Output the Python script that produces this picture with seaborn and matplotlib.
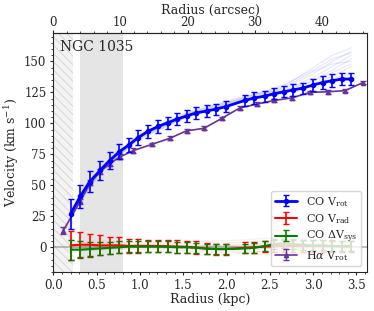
import numpy as np
import pandas as pd
import seaborn as sb
import matplotlib
import matplotlib.pyplot as plt
from matplotlib.ticker import AutoMinorLocator

# Данные кривой вращения

co_radius = [0.20, 0.31, 0.42, 0.54, 0.65, 0.76, 0.87, 0.98, 1.09, 1.21, 1.32, 1.43, 1.54, 1.65, 1.77,
             1.88, 1.99, 2.21, 2.32, 2.44, 2.55, 2.66, 2.77, 2.88, 3.00, 3.11, 3.22, 3.33, 3.44]
co_vrot = [27, 41, 53, 62, 70, 77, 82.5, 88.5, 93.5, 97.5, 100.5, 103.5, 106, 108.5, 110,
           111.5, 113.5, 118.5, 120.5, 122, 124, 125.5, 127, 128.5, 131, 133, 134.5, 135.8, 135.8]
co_vrot_err = [12, 9.5, 8.5, 7.5, 6.5, 6, 5.5, 6, 5.5, 5, 5, 5, 5, 5, 5,
               4.5, 4.5, 4.5, 4.5, 4.5, 4.5, 4.5, 4.5, 4.5, 5, 5, 5, 5, 5]
co_vrad = [1.5, 2, 2, 1.5, 1.5, 1.5, 1, 1, 1, 1, 0.8, 0.5, 0.3, -0.3, -1,
           -1.5, -1.5, -0.5, 0, 0.5, 1, 1, 1, 1, 1, 1, 1, 0.5, 0.5]
co_vrad_err = [12, 10, 9, 8, 7, 6.5, 6, 5.5, 5, 5, 5, 5, 5, 5, 4.5,
               4.5, 4.5, 4.5, 4.5, 4.5, 4.5, 4.5, 4.5, 4.5, 4.5, 4.5, 4.5, 4.5, 4.5]
co_dvsys = [-2, -2, -1.5, -1, -0.5, 0, 0.5, 0.5, 0.5, 0.5, 0.3, 0, 0, -0.5, -1.3,
            -1.5, -1.5, -1, -0.5, 1, 2.5, 3, 2.5, 2, 1.5, 1.5, 1, 1, 1]
co_dvsys_err = [8, 7, 6, 5.5, 5, 5, 4.5, 4.5, 4.5, 4.5, 4.5, 4.5, 4.5, 4, 4,
                4, 4, 4, 4, 4, 4, 4, 4, 4, 4, 4, 4, 4, 4]

ha_radius = [0.115, 0.31, 0.425, 0.54, 0.654, 0.77, 0.923, 1.135, 1.346, 1.539, 1.739, 1.943,
             2.154, 2.347, 2.547, 2.75, 2.96, 3.17, 3.37, 3.577]
ha_vrot = [13.5, 37, 52, 61, 67.5, 73, 78, 83, 88, 94, 96, 104,
           112.5, 115.5, 118.5, 120.5, 125, 125.5, 126.5, 133]
ha_vrot_err = [2.5, 2, 2, 2, 2, 2, 2, 1.5, 1.5, 1.5, 1.5, 1.5,
               1.5, 1.5, 1.5, 1.5, 1.5, 1.5, 1.5, 1.5]

# Выборки (тонкие линии)
sample_radius = [0.2, 0.54, 0.98, 1.54, 2.21, 2.66, 3.0, 3.22, 3.44]
vrot_samples = [
    [26, 61, 88, 107, 120, 128, 140, 150, 158],
    [28, 63, 90, 108, 121, 130, 145, 155, 161],
    [27, 62, 89, 106, 119, 126, 135, 143, 152],
    [25, 60, 87, 105, 118, 124, 132, 138, 146],
    [29, 64, 91, 109, 122, 127, 137, 146, 155],
    [27, 62, 88, 106, 119, 125, 131, 136, 140],
    [26, 63, 89, 107, 120, 129, 142, 148, 150],
    [28, 61, 87, 105, 119, 126, 134, 141, 148],
    [27, 63, 90, 108, 121, 131, 143, 152, 157],
]
vrad_samples = [
    [3, 4, 3, 3, 4, 6, 8, 9, 10],
    [0, 1, 0, -1, -3, -5, -6, -7, -8],
    [2, 2, 2, 1, 1, 2, 3, 4, 5],
    [-1, 0, -1, -2, -4, -3, -3, -4, -4],
    [4, 3, 2, 2, 2, 4, 5, 6, 7],
    [1, 1, 0, 0, -1, -1, -2, -2, -1],
    [-2, -1, -2, -3, -5, -7, -8, -9, -9],
    [5, 5, 4, 4, 6, 8, 10, 11, 12],
]
dvsys_samples = [
    [-1, 0, 1, 0, 0, 2, 3, 3, 4],
    [-3, -2, 0, -1, -2, -1, -2, -3, -3],
    [-2, -1, 2, 1, 1, 1, 2, 1, 2],
    [-4, -2, 0, -1, -1, 0, -1, -1, 0],
    [-1, 1, 2, 1, 1, 4, 5, 4, 5],
]

kpc_ticks = [0.0, 0.5, 1.0, 1.5, 2.0, 2.5, 3.0, 3.5]
arcsec_ticks = [0, 10, 20, 30, 40]
KPC_PER_ARCSEC = 0.0776


def samples_df(samples):
    rows = []
    for k, s in enumerate(samples):
        for r, v in zip(sample_radius, s):
            rows.append({"radius": r, "velocity": v, "sample": k})
    return pd.DataFrame(rows)


sb.set_style("ticks")
plt.rcParams["font.family"] = ["DejaVu Serif"]
plt.rcParams["mathtext.fontset"] = "dejavuserif"
plt.rcParams["hatch.linewidth"] = 0.6

fig = plt.figure(figsize=(3.74, 3.11), dpi=100)
ax = fig.add_axes([0.1426, 0.1254, 0.8384, 0.7686])

# Затенённые области
ax.axvspan(0, 0.23, facecolor="#f3f3f3", edgecolor="#d3d3d3", hatch="\\\\\\\\", lw=0, zorder=0)
ax.axvspan(0.31, 0.80, color="gray", alpha=0.2, lw=0, zorder=0)
ax.axhline(0, color="gray", alpha=0.5, lw=1.5, zorder=1)

sb.lineplot(data=samples_df(vrot_samples), x="radius", y="velocity", units="sample", estimator=None,
            color="blue", alpha=0.1, lw=0.8, ax=ax, legend=False)
sb.lineplot(data=samples_df(vrad_samples), x="radius", y="velocity", units="sample", estimator=None,
            color="red", alpha=0.08, lw=0.8, ax=ax, legend=False)
sb.lineplot(data=samples_df(dvsys_samples), x="radius", y="velocity", units="sample", estimator=None,
            color="green", alpha=0.08, lw=0.8, ax=ax, legend=False)

ax.errorbar(co_radius, co_vrot, yerr=co_vrot_err, color="blue", marker="o", ms=3, lw=2,
            elinewidth=1.2, capsize=2.5, label=r"CO V$_{\rm rot}$", zorder=5)
ax.errorbar(co_radius, co_vrad, yerr=co_vrad_err, color="red", lw=1.5,
            elinewidth=1.2, capsize=2.5, label=r"CO V$_{\rm rad}$", zorder=4)
ax.errorbar(co_radius, co_dvsys, yerr=co_dvsys_err, color="green", lw=1.5,
            elinewidth=1.2, capsize=2.5, label=r"CO $\Delta$V$_{\rm sys}$", zorder=4)
ax.errorbar(ha_radius, ha_vrot, yerr=ha_vrot_err, color="rebeccapurple", marker="^", ms=3, lw=1.2,
            elinewidth=1, capsize=2, label=r"H$\alpha$ V$_{\rm rot}$", zorder=3)

ax.set_xlim(0, 3.62)
ax.set_ylim(-20, 173)
ax.set_xticks(kpc_ticks)
ax.set_xlabel("Radius (kpc)", fontsize=9, labelpad=1)
ax.set_ylabel(r"Velocity (km s$^{-1}$)", fontsize=9, labelpad=2)
ax.tick_params(labelsize=8.5, length=2.5, pad=2.5)
ax.tick_params(which="minor", length=1.5)
ax.xaxis.set_minor_locator(AutoMinorLocator(5))
ax.yaxis.set_minor_locator(AutoMinorLocator(5))
ax.text(0.02, 0.97, "NGC 1035", transform=ax.transAxes, ha="left", va="top", fontsize=10)

top = ax.secondary_xaxis("top", functions=(lambda r: r / KPC_PER_ARCSEC, lambda a: a * KPC_PER_ARCSEC))
top.set_xticks(arcsec_ticks)
top.set_xlabel("Radius (arcsec)", fontsize=9, labelpad=2)
top.tick_params(labelsize=8.5, length=2, pad=0.5)
top.tick_params(which="minor", length=1.2)
top.xaxis.set_minor_locator(AutoMinorLocator())

leg = ax.legend(loc="lower right", fontsize=8, framealpha=0.8, handlelength=2.0,
                borderpad=0.35, labelspacing=0.3)

fig.savefig("out.png", dpi=100)
